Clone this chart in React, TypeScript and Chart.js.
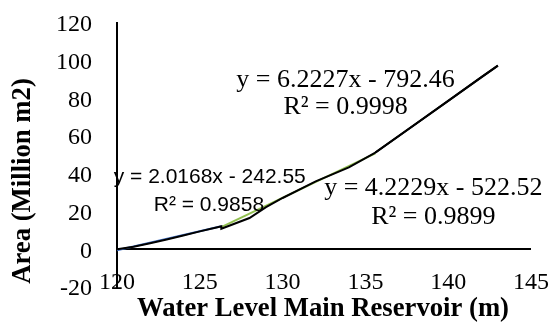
import { useEffect, useRef } from "react";
import { Chart, registerables } from "chart.js";

Chart.register(...registerables);

// Observed data: water level (m) vs area (million m2)
const levels = [120, 121, 122, 123, 124, 125, 126, 126.3, 126.3, 128, 129, 130, 132, 134, 135.6, 138, 140, 142, 143];
const areas = [0, 1.4, 3.2, 5.2, 7.3, 9.5, 11.6, 12.2, 10.9, 16.6, 22.4, 27.2, 36.0, 43.4, 51.3, 66.2, 78.7, 91.3, 97.4];

// Trendline end points
const trendBlueX = [120, 126.3];
const trendBlueY = [-0.5, 12.2];
const trendGreenX = [126.3, 135.6];
const trendGreenY = [11.8, 50.9];
const trendBlackX = [135.6, 143];
const trendBlackY = [51.3, 97.4];

// Trendline labels
const eqLabels = ["y = 2.0168x - 242.55", "y = 4.2229x - 522.52", "y = 6.2227x - 792.46"];
const r2Labels = ["R² = 0.9858", "R² = 0.9899", "R² = 0.9998"];
const eqX = [125.6, 139.1, 133.8];
const eqY = [38.2, 32.4, 89.7];
const r2X = [125.55, 139.1, 133.8];
const r2Y = [23.3, 17.0, 75.3];

const xTitle = "Water Level Main Reservoir (m)";
const yTitle = "Area (Million m2)";

const SERIF = "'Liberation Serif', 'Times New Roman', serif";
const SANS = "'Liberation Sans', Arial, sans-serif";

const pts = (xs: number[], ys: number[]) => xs.map((x, i) => ({ x, y: ys[i] }));

const textPlugin = {
  id: "texts",
  afterDatasetsDraw(chart: any) {
    const { ctx } = chart;
    const xs = chart.scales.x;
    const ys = chart.scales.y;
    ctx.save();
    ctx.fillStyle = "#000";
    ctx.textAlign = "center";
    ctx.textBaseline = "middle";
    for (let i = 0; i < eqLabels.length; i++) {
      ctx.font = i === 0 ? `21px ${SANS}` : `26px ${SERIF}`;
      ctx.fillText(eqLabels[i], xs.getPixelForValue(eqX[i]), ys.getPixelForValue(eqY[i]));
      ctx.fillText(r2Labels[i], xs.getPixelForValue(r2X[i]), ys.getPixelForValue(r2Y[i]));
    }
    ctx.restore();
  },
  afterDraw(chart: any) {
    const { ctx } = chart;
    const xs = chart.scales.x;
    ctx.save();
    ctx.fillStyle = "#000";
    ctx.textAlign = "center";
    ctx.textBaseline = "middle";
    // x tick labels (from the scale's own ticks), placed just above the plot bottom
    ctx.font = `24px ${SERIF}`;
    for (const t of xs.ticks) {
      ctx.fillText(String(t.value), xs.getPixelForValue(t.value), chart.chartArea.bottom - 4);
    }
    ctx.font = `bold 26.7px ${SERIF}`;
    ctx.fillText(xTitle, 323, 309);
    ctx.translate(23, 181);
    ctx.rotate(-Math.PI / 2);
    ctx.fillText(yTitle, 0, 0);
    ctx.restore();
  },
};

export default function App() {
  const ref = useRef<HTMLCanvasElement>(null);
  useEffect(() => {
    if (!ref.current) return;
    const chart = new Chart(ref.current, {
      type: "scatter",
      data: {
        datasets: [
          {
            data: pts(levels, areas),
            showLine: true,
            borderColor: "#000",
            borderWidth: 2,
            pointRadius: 0,
          },
          {
            data: pts(trendBlueX, trendBlueY),
            showLine: true,
            borderColor: "#4472C4",
            borderWidth: 2,
            pointRadius: 0,
          },
          {
            data: pts(trendGreenX, trendGreenY),
            showLine: true,
            borderColor: "#92C050",
            borderWidth: 2,
            pointRadius: 0,
          },
          {
            data: pts(trendBlackX, trendBlackY),
            showLine: true,
            borderColor: "#000",
            borderWidth: 2,
            pointRadius: 0,
          },
        ],
      },
      options: {
        animation: false,
        responsive: false,
        layout: { autoPadding: false, padding: { top: 23, right: 21, left: 0, bottom: 0 } },
        plugins: { legend: { display: false }, tooltip: { enabled: false } },
        scales: {
          x: {
            type: "linear",
            min: 120,
            max: 145,
            ticks: {
              stepSize: 5,
              display: false,
            },
            grid: { display: false },
            border: { display: false },
            afterFit: (s: any) => {
              s.height = 36;
              s.paddingLeft = 0;
              s.paddingRight = 0;
            },
          },
          y: {
            type: "linear",
            min: -20,
            max: 120,
            ticks: {
              stepSize: 20,
              color: "#000",
              font: { family: SERIF, size: 24 },
              padding: 25,
              labelOffset: 2,
            },
            grid: {
              drawTicks: false,
              color: (c: any) => (c.tick && c.tick.value === 0 ? "#000" : "rgba(0,0,0,0)"),
              lineWidth: 2,
            },
            border: { display: true, color: "#000", width: 2 },
            afterFit: (s: any) => {
              s.width = 117;
              s.paddingTop = 0;
              s.paddingBottom = 0;
            },
          },
        },
      },
      plugins: [textPlugin],
    } as any);
    return () => chart.destroy();
  }, []);
  return (
    <div style={{ position: "absolute", left: 0, top: 0, width: 552, height: 323, background: "#fff" }}>
      <canvas ref={ref} width={552} height={323} style={{ display: "block" }} />
    </div>
  );
}
